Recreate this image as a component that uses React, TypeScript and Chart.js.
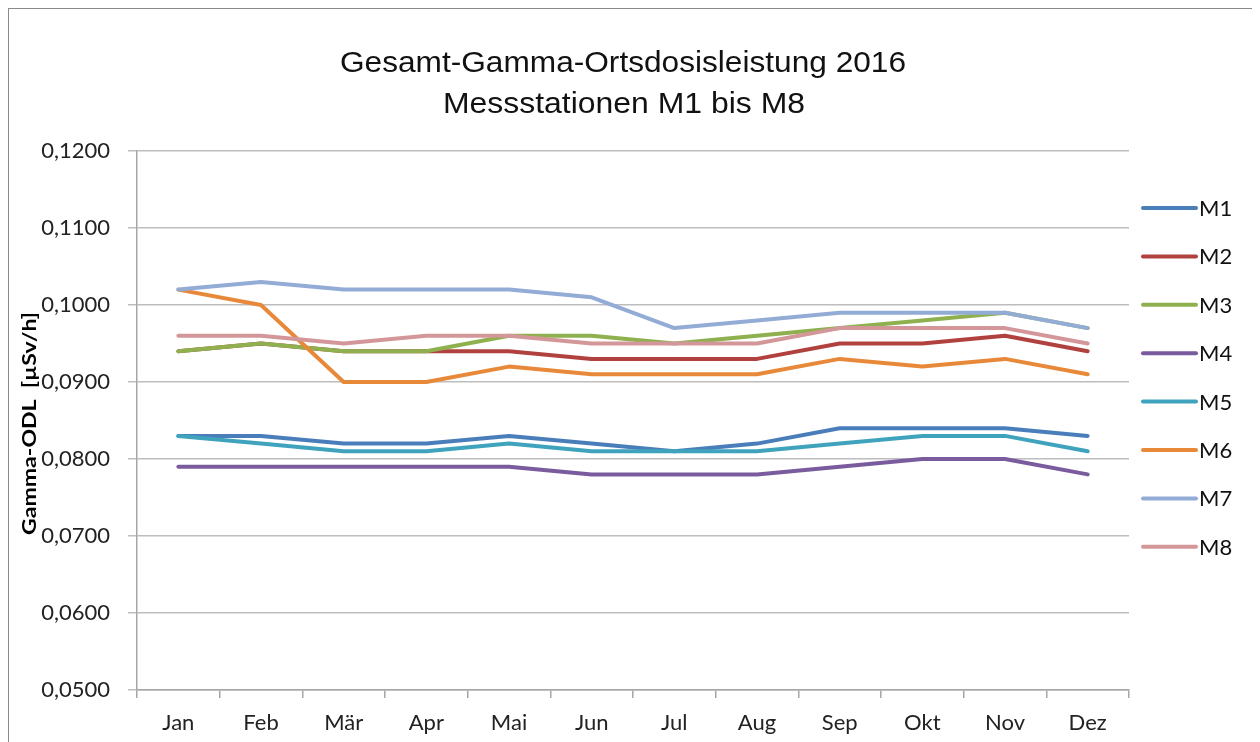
import React, { useEffect, useRef } from "react";
import { Chart, registerables } from "chart.js";

Chart.register(...registerables);

const months = ["Jan", "Feb", "Mär", "Apr", "Mai", "Jun", "Jul", "Aug", "Sep", "Okt", "Nov", "Dez"];
const seriesNames = ["M1", "M2", "M3", "M4", "M5", "M6", "M7", "M8"];
const m1 = [0.083, 0.083, 0.082, 0.082, 0.083, 0.082, 0.081, 0.082, 0.084, 0.084, 0.084, 0.083];
const m2 = [0.094, 0.095, 0.094, 0.094, 0.094, 0.093, 0.093, 0.093, 0.095, 0.095, 0.096, 0.094];
const m3 = [0.094, 0.095, 0.094, 0.094, 0.096, 0.096, 0.095, 0.096, 0.097, 0.098, 0.099, 0.097];
const m4 = [0.079, 0.079, 0.079, 0.079, 0.079, 0.078, 0.078, 0.078, 0.079, 0.08, 0.08, 0.078];
const m5 = [0.083, 0.082, 0.081, 0.081, 0.082, 0.081, 0.081, 0.081, 0.082, 0.083, 0.083, 0.081];
const m6 = [0.102, 0.1, 0.09, 0.09, 0.092, 0.091, 0.091, 0.091, 0.093, 0.092, 0.093, 0.091];
const m7 = [0.102, 0.103, 0.102, 0.102, 0.102, 0.101, 0.097, 0.098, 0.099, 0.099, 0.099, 0.097];
const m8 = [0.096, 0.096, 0.095, 0.096, 0.096, 0.095, 0.095, 0.095, 0.097, 0.097, 0.097, 0.095];
const seriesValues = [m1, m2, m3, m4, m5, m6, m7, m8];
const seriesColors = ["#4a7ebb", "#b0413e", "#8fb04f", "#7a5c9e", "#3fa3bd", "#e8893a", "#93acd6", "#d49799"];
const titleLines = ["Gesamt-Gamma-Ortsdosisleistung 2016", "Messstationen M1 bis M8"];
const yAxisTitle = "Gamma-ODL  [µSv/h]";

const decorPlugin = {
  id: "decor",
  afterDraw(chart: any) {
    const ctx = chart.ctx as CanvasRenderingContext2D;
    const ca = chart.chartArea;
    ctx.save();
    // Title
    ctx.fillStyle = "#111";
    ctx.textAlign = "center";
    ctx.textBaseline = "alphabetic";
    ctx.font = "30px 'Liberation Sans', Arial, sans-serif";
    const titleWidths = [566, 362];
    const titleCenters = [614, 615];
    const titleBaselines = [63, 104];
    titleLines.forEach((t, i) => {
      const w = ctx.measureText(t).width;
      ctx.save();
      ctx.translate(titleCenters[i], titleBaselines[i]);
      ctx.scale(titleWidths[i] / w, 1);
      ctx.fillText(t, 0, 0);
      ctx.restore();
    });
    // Y axis title
    ctx.font = "bold 18px Lato, sans-serif";
    const w = ctx.measureText(yAxisTitle).width;
    ctx.save();
    ctx.translate(21, (ca.top + ca.bottom) / 2 + 3);
    ctx.rotate(-Math.PI / 2);
    ctx.scale(223 / w, 1);
    ctx.textAlign = "center";
    ctx.textBaseline = "middle";
    ctx.fillStyle = "#000";
    ctx.fillText(yAxisTitle, 0, 0);
    ctx.restore();
    // Legend
    ctx.font = "22px Lato, sans-serif";
    ctx.textAlign = "left";
    ctx.textBaseline = "middle";
    chart.data.datasets.forEach((ds: any, i: number) => {
      const y = ca.top + 57 + i * 48.4;
      ctx.strokeStyle = ds.borderColor;
      ctx.lineWidth = 4;
      ctx.lineCap = "round";
      ctx.beginPath();
      ctx.moveTo(ca.right + 14, y);
      ctx.lineTo(ca.right + 67, y);
      ctx.stroke();
      ctx.fillStyle = "#111";
      ctx.fillText(ds.label, ca.right + 70, y + 1);
    });
    ctx.restore();
  },
};

export default function App() {
  const ref = useRef<HTMLCanvasElement>(null);
  useEffect(() => {
    document.documentElement.style.overflow = "hidden";
    const chart = new Chart(ref.current!, {
      type: "line",
      data: {
        labels: months,
        datasets: seriesNames.map((n, i) => ({
          label: n,
          data: seriesValues[i],
          borderColor: seriesColors[i],
          backgroundColor: seriesColors[i],
          borderWidth: 4,
          pointRadius: 0,
          tension: 0,
          order: seriesNames.length - i,
          borderCapStyle: "round" as const,
          borderJoinStyle: "round" as const,
        })),
      },
      options: {
        responsive: false,
        animation: false,
        layout: { padding: { top: 142, right: 131, left: 0, bottom: 0 } },
        plugins: { legend: { display: false }, title: { display: false }, tooltip: { enabled: false } },
        scales: {
          x: {
            type: "category",
            offset: true,
            afterFit: (s: any) => { s.height = 52; },
            grid: { offset: true, drawOnChartArea: false, drawTicks: true, tickLength: 8, color: "#a6a6a6", lineWidth: 1.5 },
            border: { color: "#a6a6a6", width: 1.5 },
            ticks: { color: "#222", padding: 12, font: { family: "Lato, sans-serif", size: 22 }, maxRotation: 0 },
          },
          y: {
            min: 0.05,
            max: 0.12,
            afterFit: (s: any) => { s.width = 128; },
            ticks: {
              stepSize: 0.01,
              color: "#222",
              padding: 18,
              font: { family: "Lato, sans-serif", size: 22 },
              callback: (v: any) => Number(v).toFixed(4).replace(".", ","),
            },
            grid: { color: "#bdbdbd", lineWidth: 1.5, tickLength: 9 },
            border: { color: "#a6a6a6", width: 1.5 },
          },
        },
      },
      plugins: [decorPlugin],
    });
    return () => chart.destroy();
  }, []);
  return (
    <div
      style={{
        width: 1252,
        height: 734,
        boxSizing: "border-box",
        borderTop: "1px solid #8a8a8a",
        borderLeft: "1px solid #8a8a8a",
        overflow: "hidden",
        background: "#fff",
      }}
    >
      <canvas ref={ref} width={1251} height={733} style={{ display: "block" }} />
    </div>
  );
}
